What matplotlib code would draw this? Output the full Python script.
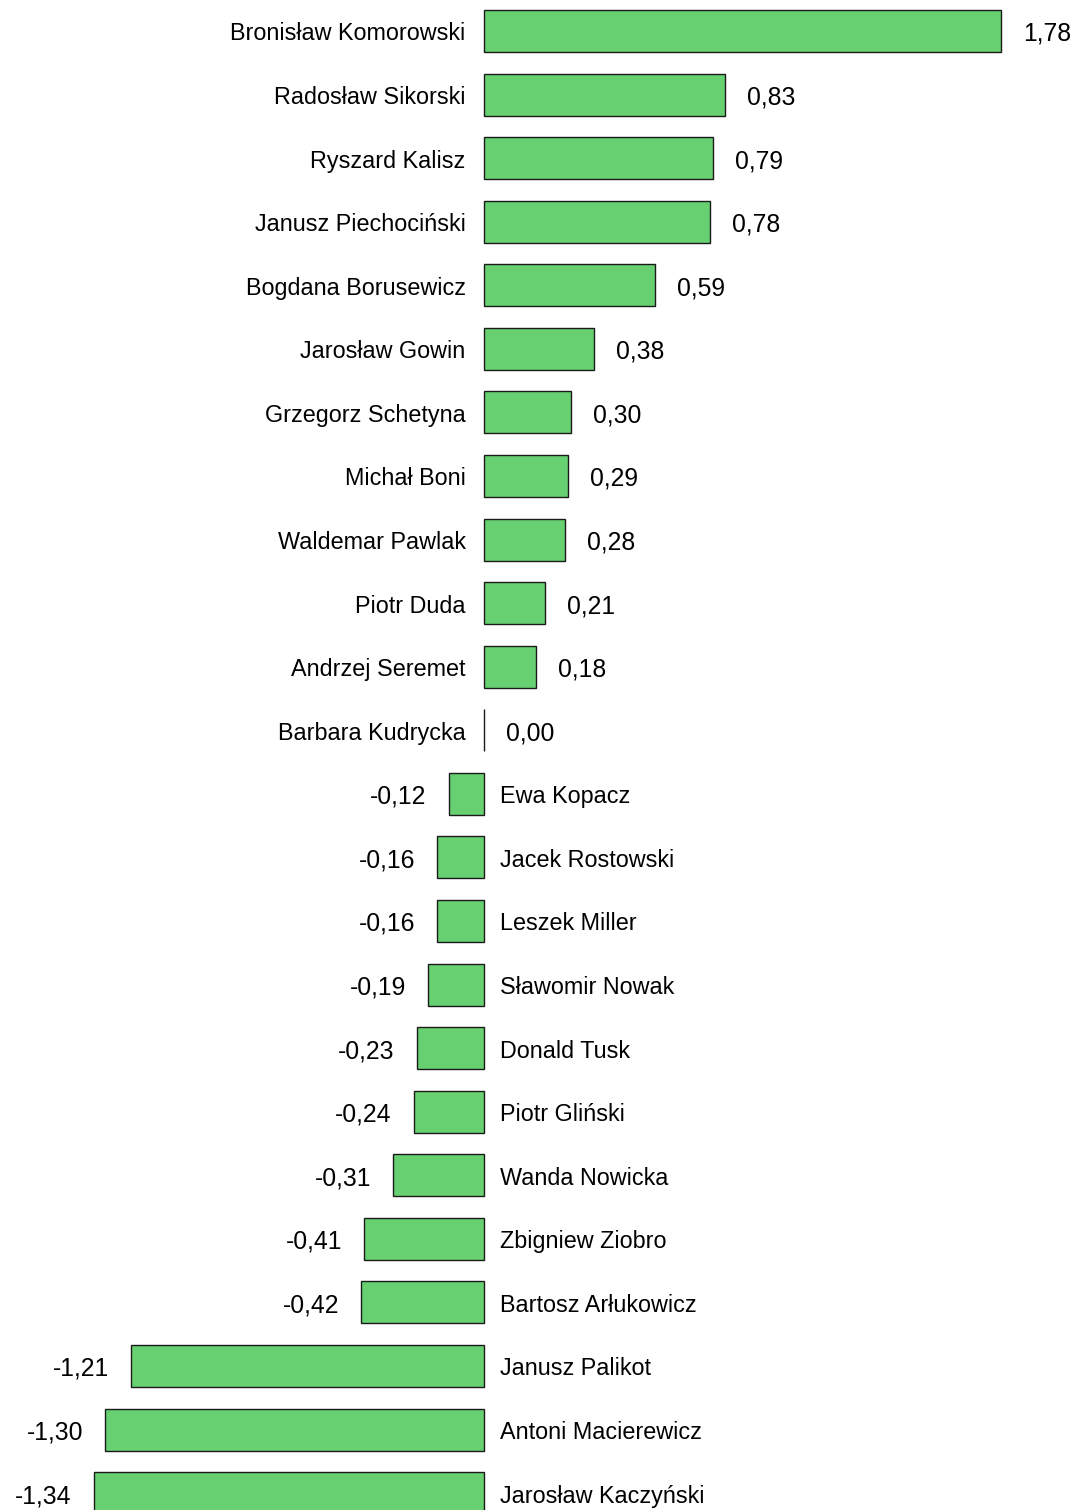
import matplotlib
matplotlib.use("Agg")
import matplotlib.pyplot as plt
from matplotlib.transforms import offset_copy

names = ["Bronisław Komorowski", "Radosław Sikorski", "Ryszard Kalisz", "Janusz Piechociński",
         "Bogdana Borusewicz", "Jarosław Gowin", "Grzegorz Schetyna", "Michał Boni",
         "Waldemar Pawlak", "Piotr Duda", "Andrzej Seremet", "Barbara Kudrycka",
         "Ewa Kopacz", "Jacek Rostowski", "Leszek Miller", "Sławomir Nowak",
         "Donald Tusk", "Piotr Gliński", "Wanda Nowicka", "Zbigniew Ziobro",
         "Bartosz Arłukowicz", "Janusz Palikot", "Antoni Macierewicz", "Jarosław Kaczyński"]
values = [1.78, 0.83, 0.79, 0.78, 0.59, 0.38, 0.30, 0.29, 0.28, 0.21, 0.18, 0.00,
          -0.12, -0.16, -0.16, -0.19, -0.23, -0.24, -0.31, -0.41, -0.42, -1.21, -1.30, -1.34]

plt.rcParams['font.family'] = ['Liberation Sans', 'DejaVu Sans']

fig = plt.figure(figsize=(10.79, 15.10), dpi=100)
ax = fig.add_axes([0, 0, 1, 1])
ax.axis('off')

ypos = list(range(len(names)))
ax.barh(ypos, values, height=0.66, color='#67D071', edgecolor='#1a1a1a', linewidth=1.0)

ax.set_xlim(-483.5 / 291.0, (1079 - 483.5) / 291.0)
ax.set_ylim((1510 - 31) / 63.57, -31 / 63.57)

fs_name = 16.8
fs_val = 17.8
dy = -3
for y, n, v in zip(ypos, names, values):
    lab = f"{v:.2f}".replace('.', ',')
    if v >= 0:
        ax.text(0, y, n, ha='right', va='center', fontsize=fs_name,
                transform=offset_copy(ax.transData, fig=fig, x=-18, y=dy, units='dots'))
        ax.text(v, y, lab, ha='left', va='center', fontsize=fs_val,
                transform=offset_copy(ax.transData, fig=fig, x=22, y=dy, units='dots'))
    else:
        ax.text(0, y, n, ha='left', va='center', fontsize=fs_name,
                transform=offset_copy(ax.transData, fig=fig, x=16, y=dy, units='dots'))
        ax.text(v, y, lab, ha='right', va='center', fontsize=fs_val,
                transform=offset_copy(ax.transData, fig=fig, x=-22, y=dy, units='dots'))

fig.savefig("out.png", dpi=100, facecolor='white')
